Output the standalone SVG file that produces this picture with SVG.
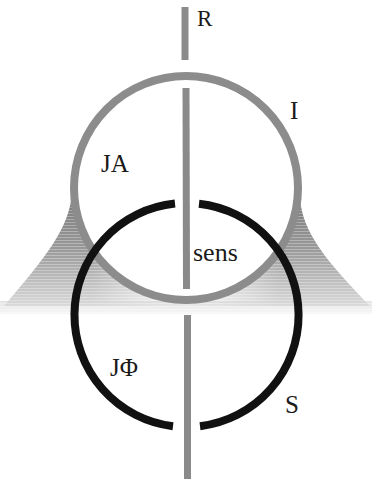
<svg xmlns="http://www.w3.org/2000/svg" width="372" height="479" viewBox="0 0 372 479">
  <defs>
    <linearGradient id="fanGrad" gradientUnits="userSpaceOnUse" x1="0" y1="200" x2="0" y2="308">
      <stop offset="0" stop-color="#7c7c7c"/>
      <stop offset="0.45" stop-color="#999"/>
      <stop offset="1" stop-color="#dcdcdc"/>
    </linearGradient>
    <linearGradient id="fadeGrad" gradientUnits="userSpaceOnUse" x1="0" y1="0" x2="186" y2="0">
      <stop offset="0" stop-color="#fff"/>
      <stop offset="0.5" stop-color="#fff"/>
      <stop offset="1" stop-color="#fff" stop-opacity="0.15"/>
    </linearGradient>
    <mask id="fadeMask" maskUnits="userSpaceOnUse" x="0" y="0" width="372" height="479">
      <rect x="0" y="0" width="186" height="479" fill="url(#fadeGrad)"/>
    </mask>
    <pattern id="stripes" patternUnits="userSpaceOnUse" width="4" height="3">
      <rect x="0" y="0" width="4" height="1" fill="#fff" fill-opacity="0.3"/>
    </pattern>
    <linearGradient id="bandGrad" x1="0" y1="0" x2="0" y2="1">
      <stop offset="0" stop-color="#e4e4e4"/>
      <stop offset="1" stop-color="#f7f7f7"/>
    </linearGradient>
  </defs>
  <style>
    .lbl { font-family: "Liberation Serif", "DejaVu Serif", serif; fill: #1a1a1a; }
    .axis { stroke: #8a8a8a; stroke-width: 7; fill: none; }
    .ring-i { stroke: #8c8c8c; stroke-width: 8; fill: none; }
    .ring-s { stroke: #111; stroke-width: 8; fill: none; }
  </style>

  <!-- shaded fans / band -->
  <g id="shading">
    <rect x="0" y="301" width="372" height="13" fill="url(#bandGrad)"/>
    <rect x="0" y="301" width="372" height="13" fill="url(#stripes)"/>
    <g id="fan-left" mask="url(#fadeMask)">
      <path d="M 72,192 C 70,228 45,258 4,306 L 186,306 L 186,300 A 112 112 0 0 1 74,188 Z" fill="url(#fanGrad)"/>
      <path d="M 72,192 C 70,228 45,258 4,306 L 186,306 L 186,300 A 112 112 0 0 1 74,188 Z" fill="url(#stripes)"/>
    </g>
    <g id="fan-right" transform="translate(372,0) scale(-1,1)" mask="url(#fadeMask)">
      <path d="M 72,198 C 70,232 45,262 2,306 L 186,306 L 186,300 A 112 112 0 0 1 74,188 Z" fill="url(#fanGrad)"/>
      <path d="M 72,198 C 70,232 45,262 2,306 L 186,306 L 186,300 A 112 112 0 0 1 74,188 Z" fill="url(#stripes)"/>
    </g>
  </g>

  <!-- gray circle I -->
  <g id="node-I">
    <circle class="ring-i" cx="186" cy="188" r="112"/>
  </g>

  <!-- connectors: vertical axis -->
  <g id="connectors">
    <line class="axis" x1="185" y1="7" x2="185" y2="60"/>
    <line class="axis" x1="186" y1="88" x2="186.5" y2="289"/>
    <line class="axis" x1="187.5" y1="315" x2="187.5" y2="479"/>
  </g>

  <!-- black circle S -->
  <g id="node-S">
    <path class="ring-s" d="M 175,203.6 A 112 112 0 0 0 173,426.2"/>
    <path class="ring-s" d="M 199,203.7 A 112 112 0 0 1 200,426.2"/>
  </g>

  <!-- labels -->
  <g id="labels">
    <text class="lbl" x="197" y="26" font-size="23">R</text>
    <text class="lbl" x="290" y="119" font-size="25">I</text>
    <text class="lbl" x="101" y="172" font-size="25">JA</text>
    <text class="lbl" x="193" y="261" font-size="26">sens</text>
    <text class="lbl" x="110" y="376" font-size="25">JΦ</text>
    <text class="lbl" x="285" y="413" font-size="25">S</text>
  </g>
</svg>
